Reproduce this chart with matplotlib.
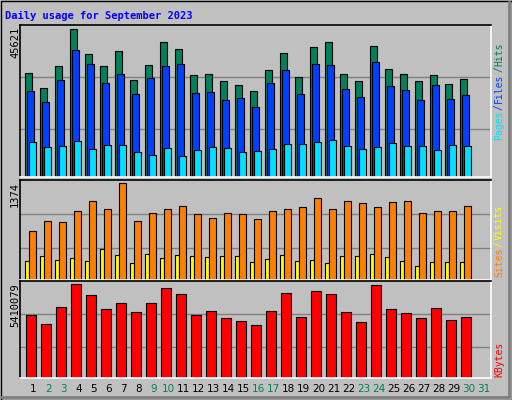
import matplotlib
matplotlib.use("Agg")
import matplotlib.pyplot as plt
from matplotlib.lines import Line2D

days = list(range(1, 32))
hits = [32250,27580,34430,45621,38160,34430,39090,30070,34740,41580,39710,31630,31940,29760,28520,
        26650,33180,38470,31000,40340,41580,31940,29760,40650,33490,31940,29760,31630,28830,30380]
files = [26650,23230,30070,39400,35050,29140,31940,25720,30690,34430,35050,26030,26340,23850,24470,
         21670,29140,33180,25720,35050,34740,27270,24780,35670,28210,26960,23850,28520,24160,25410]
pages = [10780,9230,9540,11100,8610,9850,9850,7670,6740,8920,6430,8300,9230,8920,7670,
         7980,8610,10160,10160,10780,11410,9540,8610,9230,10470,9540,9540,8300,9850,9540]
visits = [700,835,820,970,1120,1000,1374,835,955,1000,1045,940,880,955,940,
          865,970,1000,1030,1165,1000,1120,1090,1030,1105,1120,955,970,970,1045]
sites = [265,340,280,310,265,445,355,235,370,310,355,340,325,340,340,
         250,295,355,265,280,235,340,340,370,325,265,205,250,250,250]
kbytes = [3626000,3091000,4102000,5410079,4756000,3983000,4280000,3805000,4280000,5172000,
          4816000,3626000,3864000,3448000,3270000,3032000,3864000,4875000,3508000,4994000,
          4816000,3805000,3210000,5351000,3983000,3745000,3448000,4043000,3329000,3508000]
weekend = [2,3,9,10,16,17,23,24,30,31]

W, H = 512, 400
fig = plt.figure(figsize=(W/100, H/100), dpi=100, facecolor="#C0C0C0")
mono = "DejaVu Sans Mono"

def px_axes(x0, y0, x1, y1):
    return fig.add_axes([x0/W, 1-y1/H, (x1-x0)/W, (y1-y0)/H])

fig.add_artist(Line2D([0.5/W, 0.5/W, 1-0.5/W, 1-0.5/W, 0.5/W], [0.5/H, 1-0.5/H, 1-0.5/H, 0.5/H, 0.5/H],
                      color="black", lw=1))
fig.add_artist(Line2D([2/W, (W-3)/W, (W-3)/W], [3/H, 3/H, (H-2)/H], color="#808080", lw=2))

def setup(ax, top):
    ax.set_facecolor("#C0C0C0")
    ax.set_xlim(0, 31.4)
    ax.set_ylim(0, top*1.03)
    ax.set_xticks([]); ax.set_yticks([])
    for s in ax.spines.values():
        s.set_linewidth(1.2)
    ax.spines['top'].set_color("black"); ax.spines['left'].set_color("black")
    ax.spines['bottom'].set_color("white"); ax.spines['right'].set_color("white")
    for f in (0.325, 0.675):
        ax.axhline(top*f, color="#808080", lw=1, zorder=0)

def bars(ax, vals, off, w, color):
    ax.bar([i + off for i in range(len(vals))], vals, width=w, align="edge",
           color=color, edgecolor="black", linewidth=0.8, zorder=2)

ax1 = px_axes(20, 25, 491, 177)
setup(ax1, max(hits))
bars(ax1, hits, 0.35, 0.47, "#00805C")
bars(ax1, files, 0.48, 0.47, "#0040FF")
bars(ax1, pages, 0.62, 0.47, "#00E0FF")

ax2 = px_axes(20, 180, 491, 280)
setup(ax2, max(visits))
bars(ax2, sites, 0.35, 0.27, "#FFFF00")
bars(ax2, visits, 0.62, 0.47, "#FF8000")

ax3 = px_axes(20, 281, 491, 378)
setup(ax3, max(kbytes))
bars(ax3, kbytes, 0.42, 0.67, "#FF0000")

for v, y in [(max(hits), 27), (max(visits), 182), (max(kbytes), 283)]:
    fig.text(15/W, 1-y/H, str(v), rotation=90, ha="center", va="top", fontsize=7.5,
             family=mono, color="black")

renderer = fig.canvas.get_renderer()
def stack(parts, ybot):
    y = ybot
    for txt, col in parts:
        t = fig.text(499/W, 1-y/H, txt, rotation=90, ha="center", va="bottom",
                     fontsize=7, family=mono, color=col)
        bb = t.get_window_extent(renderer)
        y -= bb.height + 1
stack([("Pages", "#00E0FF"), ("/", "#0040FF"), ("Files", "#0040FF"), ("/", "#00805C"), ("Hits", "#00805C")], 140)
stack([("Sites", "#FF8000"), ("/", "#FFFF00"), ("Visits", "#FFFF00")], 277)
stack([("KBytes", "#FF0000")], 377)

for d in days:
    x = 20 + (d-1)*15 + 13.5
    fig.text(x/W, 1-389/H, str(d), ha="center", va="center", fontsize=7.5, family="DejaVu Sans",
             color="#00805C" if d in weekend else "black")

fig.text(5/W, 1-16/H, "Daily usage for September 2023", ha="left", va="center",
         fontsize=7.5, family=mono, fontweight="bold", color="#0000FF")

fig.savefig("out.png", dpi=100, facecolor=fig.get_facecolor())
